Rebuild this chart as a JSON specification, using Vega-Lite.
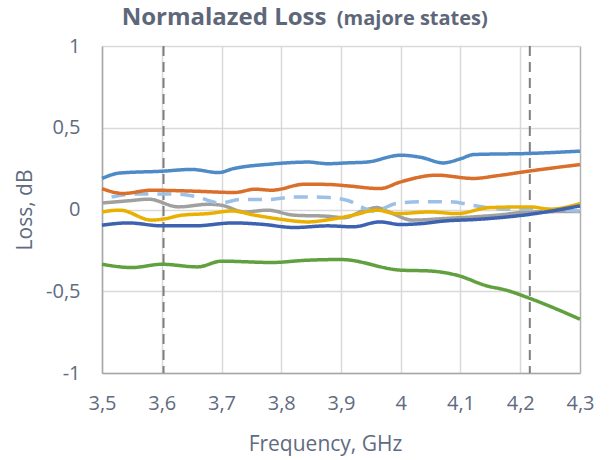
{
  "$schema": "https://vega.github.io/schema/vega-lite/v6.json",
  "width": 478,
  "height": 327,
  "autosize": {"type": "none"},
  "padding": {"left": 102, "top": 46, "right": 30, "bottom": 87},
  "background": "white",
  "config": {
    "view": {"stroke": null},
    "font": "Open Sans"
  },
  "datasets": {
    "series": [
      {"s": "gray", "f": 3.5, "v": 0.04}, {"s": "gray", "f": 3.544, "v": 0.053}, {"s": "gray", "f": 3.578, "v": 0.063}, {"s": "gray", "f": 3.628, "v": 0.016}, {"s": "gray", "f": 3.678, "v": 0.032}, {"s": "gray", "f": 3.7, "v": 0.026}, {"s": "gray", "f": 3.739, "v": -0.015}, {"s": "gray", "f": 3.777, "v": -0.004}, {"s": "gray", "f": 3.822, "v": -0.035}, {"s": "gray", "f": 3.877, "v": -0.041}, {"s": "gray", "f": 3.905, "v": -0.05}, {"s": "gray", "f": 3.937, "v": -0.008}, {"s": "gray", "f": 3.96, "v": 0.012}, {"s": "gray", "f": 3.98, "v": -0.015}, {"s": "gray", "f": 4.02, "v": -0.065}, {"s": "gray", "f": 4.074, "v": -0.055}, {"s": "gray", "f": 4.16, "v": -0.035}, {"s": "gray", "f": 4.217, "v": -0.015}, {"s": "gray", "f": 4.3, "v": -0.012},
      {"s": "lightblue", "f": 3.516, "v": 0.077}, {"s": "lightblue", "f": 3.56, "v": 0.095}, {"s": "lightblue", "f": 3.62, "v": 0.095}, {"s": "lightblue", "f": 3.655, "v": 0.081}, {"s": "lightblue", "f": 3.698, "v": 0.04}, {"s": "lightblue", "f": 3.732, "v": 0.061}, {"s": "lightblue", "f": 3.777, "v": 0.061}, {"s": "lightblue", "f": 3.822, "v": 0.077}, {"s": "lightblue", "f": 3.86, "v": 0.077}, {"s": "lightblue", "f": 3.88, "v": 0.073}, {"s": "lightblue", "f": 3.91, "v": 0.057}, {"s": "lightblue", "f": 3.955, "v": -0.01}, {"s": "lightblue", "f": 3.993, "v": 0.037}, {"s": "lightblue", "f": 4.037, "v": 0.047}, {"s": "lightblue", "f": 4.08, "v": 0.047}, {"s": "lightblue", "f": 4.127, "v": 0.022}, {"s": "lightblue", "f": 4.17, "v": 0.002}, {"s": "lightblue", "f": 4.217, "v": 0.002}, {"s": "lightblue", "f": 4.3, "v": -0.01},
      {"s": "orange", "f": 3.5, "v": 0.128}, {"s": "orange", "f": 3.535, "v": 0.098}, {"s": "orange", "f": 3.583, "v": 0.118}, {"s": "orange", "f": 3.655, "v": 0.112}, {"s": "orange", "f": 3.722, "v": 0.104}, {"s": "orange", "f": 3.756, "v": 0.124}, {"s": "orange", "f": 3.784, "v": 0.118}, {"s": "orange", "f": 3.84, "v": 0.155}, {"s": "orange", "f": 3.88, "v": 0.153}, {"s": "orange", "f": 3.91, "v": 0.145}, {"s": "orange", "f": 3.965, "v": 0.128}, {"s": "orange", "f": 4.0, "v": 0.169}, {"s": "orange", "f": 4.06, "v": 0.21}, {"s": "orange", "f": 4.122, "v": 0.19}, {"s": "orange", "f": 4.16, "v": 0.206}, {"s": "orange", "f": 4.217, "v": 0.236}, {"s": "orange", "f": 4.3, "v": 0.275},
      {"s": "blue", "f": 3.5, "v": 0.19}, {"s": "blue", "f": 3.53, "v": 0.223}, {"s": "blue", "f": 3.6, "v": 0.234}, {"s": "blue", "f": 3.65, "v": 0.245}, {"s": "blue", "f": 3.695, "v": 0.226}, {"s": "blue", "f": 3.72, "v": 0.25}, {"s": "blue", "f": 3.78, "v": 0.277}, {"s": "blue", "f": 3.845, "v": 0.29}, {"s": "blue", "f": 3.878, "v": 0.28}, {"s": "blue", "f": 3.91, "v": 0.285}, {"s": "blue", "f": 3.943, "v": 0.29}, {"s": "blue", "f": 4.0, "v": 0.332}, {"s": "blue", "f": 4.035, "v": 0.318}, {"s": "blue", "f": 4.071, "v": 0.285}, {"s": "blue", "f": 4.1, "v": 0.31}, {"s": "blue", "f": 4.122, "v": 0.336}, {"s": "blue", "f": 4.217, "v": 0.343}, {"s": "blue", "f": 4.3, "v": 0.357},
      {"s": "green", "f": 3.5, "v": -0.335}, {"s": "green", "f": 3.55, "v": -0.355}, {"s": "green", "f": 3.6, "v": -0.335}, {"s": "green", "f": 3.66, "v": -0.351}, {"s": "green", "f": 3.7, "v": -0.316}, {"s": "green", "f": 3.784, "v": -0.324}, {"s": "green", "f": 3.845, "v": -0.31}, {"s": "green", "f": 3.9, "v": -0.306}, {"s": "green", "f": 4.0, "v": -0.371}, {"s": "green", "f": 4.049, "v": -0.376}, {"s": "green", "f": 4.094, "v": -0.402}, {"s": "green", "f": 4.144, "v": -0.467}, {"s": "green", "f": 4.177, "v": -0.494}, {"s": "green", "f": 4.217, "v": -0.545}, {"s": "green", "f": 4.3, "v": -0.671},
      {"s": "yellow", "f": 3.5, "v": -0.015}, {"s": "yellow", "f": 3.53, "v": -0.004}, {"s": "yellow", "f": 3.583, "v": -0.065}, {"s": "yellow", "f": 3.605, "v": -0.057}, {"s": "yellow", "f": 3.633, "v": -0.035}, {"s": "yellow", "f": 3.678, "v": -0.025}, {"s": "yellow", "f": 3.717, "v": -0.009}, {"s": "yellow", "f": 3.756, "v": -0.035}, {"s": "yellow", "f": 3.8, "v": -0.06}, {"s": "yellow", "f": 3.845, "v": -0.076}, {"s": "yellow", "f": 3.878, "v": -0.063}, {"s": "yellow", "f": 3.92, "v": -0.035}, {"s": "yellow", "f": 3.96, "v": -0.004}, {"s": "yellow", "f": 3.993, "v": -0.025}, {"s": "yellow", "f": 4.049, "v": -0.015}, {"s": "yellow", "f": 4.094, "v": -0.025}, {"s": "yellow", "f": 4.15, "v": 0.012}, {"s": "yellow", "f": 4.217, "v": 0.016}, {"s": "yellow", "f": 4.25, "v": 0.002}, {"s": "yellow", "f": 4.3, "v": 0.037},
      {"s": "darkblue", "f": 3.5, "v": -0.096}, {"s": "darkblue", "f": 3.544, "v": -0.082}, {"s": "darkblue", "f": 3.6, "v": -0.1}, {"s": "darkblue", "f": 3.655, "v": -0.1}, {"s": "darkblue", "f": 3.72, "v": -0.082}, {"s": "darkblue", "f": 3.766, "v": -0.09}, {"s": "darkblue", "f": 3.822, "v": -0.11}, {"s": "darkblue", "f": 3.878, "v": -0.1}, {"s": "darkblue", "f": 3.92, "v": -0.106}, {"s": "darkblue", "f": 3.965, "v": -0.076}, {"s": "darkblue", "f": 4.0, "v": -0.092}, {"s": "darkblue", "f": 4.035, "v": -0.086}, {"s": "darkblue", "f": 4.074, "v": -0.07}, {"s": "darkblue", "f": 4.13, "v": -0.06}, {"s": "darkblue", "f": 4.217, "v": -0.029}, {"s": "darkblue", "f": 4.3, "v": 0.022}
    ],
    "markers": [{"f": 3.603}, {"f": 4.216}],
    "main": [{"t": "Normalazed Loss", "f": 3.533, "v": 1.128}],
    "sub": [{"t": "(majore states)", "f": 3.893, "v": 1.128}]
  },
  "layer": [
    {
      "data": {"name": "markers"},
      "mark": {"type": "rule", "color": "#7F7F7F", "strokeWidth": 2, "strokeDash": [10, 6]},
      "encoding": {
        "x": {"field": "f", "type": "quantitative", "scale": {"domain": [3.5, 4.3], "nice": false, "zero": false},
          "axis": {
            "values": [3.5, 3.6, 3.7, 3.8, 3.9, 4.0, 4.1, 4.2, 4.3],
            "labelExpr": "replace(toString(round(datum.value*10)/10), '.', ',')",
            "labelFlush": false,
            "title": "Frequency, GHz",
            "titleFont": "Open Sans", "titleFontSize": 21, "titleFontWeight": "normal", "titleColor": "#5F6B80",
            "titlePadding": 20, "titleX": 223,
            "labelFont": "Open Sans", "labelFontSize": 20, "labelColor": "#5F6B80", "labelPadding": 20,
            "ticks": false,
            "domainColor": "#A6A6A6", "domainWidth": 1.5,
            "grid": true, "gridWidth": 1.5,
            "gridColor": {"condition": {"test": "datum.value >= 4.29", "value": "#B0B0B0"}, "value": "#D9D9D9"}
          }}
      }
    },
    {
      "data": {"name": "series"},
      "mark": {"type": "line", "strokeWidth": 3.5, "interpolate": "monotone"},
      "encoding": {
        "x": {"field": "f", "type": "quantitative"},
        "y": {"field": "v", "type": "quantitative", "scale": {"domain": [-1, 1], "nice": false},
          "axis": {
            "values": [-1, -0.5, 0, 0.5, 1],
            "labelExpr": "replace(toString(datum.value), '.', ',')",
            "title": "Loss, dB",
            "titleFont": "Open Sans", "titleFontSize": 21, "titleFontWeight": "normal", "titleColor": "#5F6B80",
            "titlePadding": 10,
            "labelFont": "Open Sans", "labelFontSize": 20, "labelColor": "#5F6B80", "labelPadding": 22,
            "ticks": false,
            "domainColor": "#A6A6A6", "domainWidth": 1.5,
            "grid": true, "gridColor": "#D9D9D9", "gridWidth": 1.5
          }},
        "color": {"field": "s", "type": "nominal", "legend": null,
          "scale": {"domain": ["gray", "lightblue", "orange", "blue", "green", "yellow", "darkblue"],
                    "range": ["#A0A0A0", "#9CC0E6", "#DA6F2C", "#4E8BC6", "#61A03E", "#E9B000", "#3C62B0"]}},
        "strokeDash": {"field": "s", "type": "nominal", "legend": null,
          "scale": {"domain": ["gray", "lightblue", "orange", "blue", "green", "yellow", "darkblue"],
                    "range": [[1, 0], [14, 9], [1, 0], [1, 0], [1, 0], [1, 0], [1, 0]]}}
      }
    },
    {
      "data": {"name": "main"},
      "mark": {"type": "text", "align": "left", "baseline": "alphabetic", "fontSize": 24, "fontWeight": "bold", "font": "Open Sans", "color": "#5E677A", "clip": false},
      "encoding": {
        "x": {"field": "f", "type": "quantitative"},
        "y": {"field": "v", "type": "quantitative"},
        "text": {"field": "t"}
      }
    },
    {
      "data": {"name": "sub"},
      "mark": {"type": "text", "align": "left", "baseline": "alphabetic", "fontSize": 20, "fontWeight": "bold", "font": "Open Sans", "color": "#5E677A", "clip": false},
      "encoding": {
        "x": {"field": "f", "type": "quantitative"},
        "y": {"field": "v", "type": "quantitative"},
        "text": {"field": "t"}
      }
    }
  ]
}
